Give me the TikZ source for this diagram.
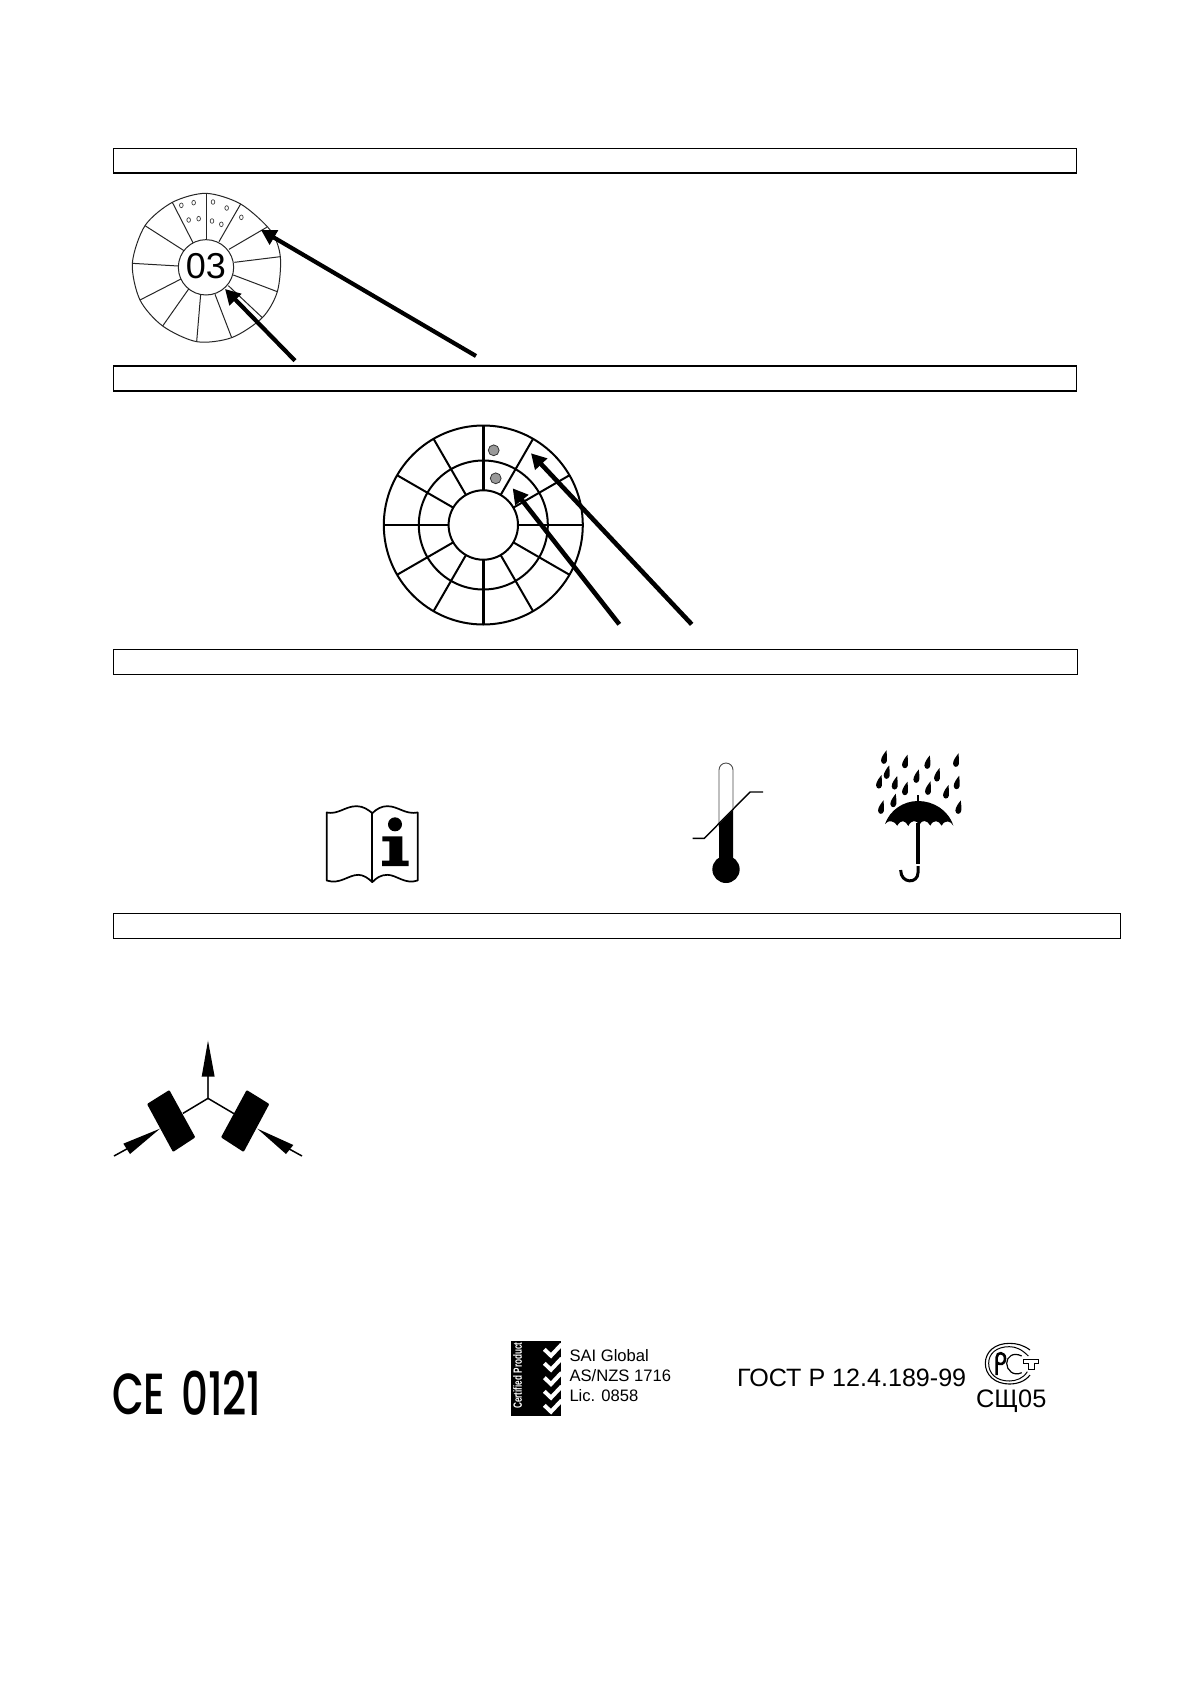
\documentclass[tikz,border=0pt]{standalone}
\usepackage{fontspec}
\setmainfont{Liberation Sans}
\newfontfamily\markfont{Poppins Medium}
\usetikzlibrary{arrows.meta}
\newcommand{\fsz}[1]{\fontsize{#1}{#1}\selectfont}
\tikzset{
  zm/.style 2 args={shift={(#1,#2)},x=0.33333pt,y=-0.33333pt},
  framebox/.style={draw=black,line width=1.1pt},
  bigarrow/.style={draw=black,line width=4.6pt,-{Triangle[length=15pt,width=16pt]}},
  sketch/.style={draw=black!85,line width=1pt},
  wheel/.style={draw=black,line width=2pt},
  wheelheavy/.style={draw=black,line width=3.2pt},
  labeltext/.style={inner sep=0pt,anchor=base west},
}
\begin{document}
\begin{tikzpicture}[x=1pt,y=-1pt]
\useasboundingbox (0,0) rectangle (1191,1684);
\fill[white] (0,0) rectangle (1191,1684);
% frames
\draw[framebox] (113.3,148.3) rectangle (1076.5,173);
\draw[framebox] (113.3,366) rectangle (1076.5,391);
\draw[framebox] (113.3,649.3) rectangle (1077.3,674.3);
\draw[framebox] (113.3,913.3) rectangle (1120.3,938.3);
% first wheel
\begin{scope}[zm={100}{140}]
  \draw[sketch] plot[smooth cycle,tension=.5] coordinates {(318,160) (217,187) (135,257) (97,370) (120,480) (188,558) (290,605) (395,593) (487,533) (532,455) (541,350) (512,272) (422,192)};
  \draw[sketch] (318,382) circle[radius=83];
  \foreach \xa/\ya/\xb/\yb in {318/300/318/160,279/308/217/187,252/332/135/257,235/378/97/370,243/417/120/480,266/447/188/558,302/463/290/605,345/463/395/593,385/437/487/533,400/405/532/455,403/367/541/350,387/328/500/262,357/305/422/192}
    \draw[sketch] (\xa,\ya) -- (\xb,\yb);
  \foreach \xa/\ya in {244/196,281/188,339/186,380/204,424/232,266/240,296/236,336/243,364/253}
    \draw[draw=black!75,line width=0.7pt] (\xa,\ya) circle[x radius=5.5,y radius=7];
  \node[inner sep=0pt,font=\fsz{36}] (wheelnum) at (318,377) {03};
  \coordinate (aas) at (585,662);
  \coordinate (aat) at (375,447);
  \coordinate (abs) at (1128,648);
  \coordinate (abt) at (483,270);
  \draw[bigarrow,line width=4.2pt] (aas) -- (aat);
  \draw[bigarrow,line width=4.2pt] (abs) -- (abt);
\end{scope}
% second wheel
\begin{scope}[shift={(483.3,525)}]
  \draw[wheel] (0,0) circle[radius=99.5];
  \draw[wheel] (0,0) circle[radius=64.5];
  \draw[wheel] (0,0) circle[radius=34.7];
  \foreach \a in {30,60,120,150,210,240,300,330}
    \draw[wheel] (\a:34.7) -- (\a:99.5);
  \draw[wheel] (0:34.7) -- (0:99.5);
  \draw[wheel] (180:34.7) -- (180:99.5);
  \draw[wheelheavy] (90:34.7) -- (90:99.5);
  \draw[wheelheavy] (270:34.7) -- (270:99.5);
\end{scope}
\filldraw[fill=black!40,draw=black!80,line width=0.8pt] (493.7,450.3) circle[radius=5.4];
\filldraw[fill=black!40,draw=black!80,line width=0.8pt] (495.7,478.3) circle[radius=5.4];
\coordinate (bas) at (619.3,624.3);
\coordinate (bat) at (512.7,488.3);
\coordinate (bbs) at (691.7,624.3);
\coordinate (bbt) at (531,453.3);
\draw[bigarrow] (bas) -- (bat);
\draw[bigarrow] (bbs) -- (bbt);
% book
\begin{scope}[zm={310}{730}]
  \begin{scope}[yshift=-1.5pt]
  \draw[black,line width=1.7pt,line join=round] (50,243) .. controls (85,250) and (105,224) .. (140,224) .. controls (160,224) and (175,235) .. (187,245) .. controls (200,232) and (215,224) .. (232,224) .. controls (265,224) and (285,250) .. (323,243) -- (323,447) .. controls (285,460) and (260,430) .. (232,430) .. controls (212,430) and (198,440) .. (187,452) .. controls (175,440) and (160,430) .. (145,430) .. controls (115,430) and (90,460) .. (50,447) -- cycle;
  \draw[black,line width=1.7pt] (187,245) -- (187,452);
  \end{scope}
  \fill[black] (255,283) circle[radius=21];
  \fill[black] (217,319) -- (277,319) -- (277,392) -- (296,392) -- (296,408) -- (216,408) -- (216,392) -- (238,392) -- (238,334) -- (217,334) -- cycle;
\end{scope}
% thermometer and umbrella
\begin{scope}[zm={670}{730}]
  \draw[draw=black!70,line width=0.9pt] (147,290) -- (147,120) arc[start angle=180,end angle=360,radius=21] -- (189,240);
  \fill[black] (147,283) -- (189,240) -- (189,400) -- (147,400) -- cycle;
  \fill[black] (168,418) circle[radius=41];
  \draw[black,line width=1.4pt] (68,325) -- (103,325) -- (240,186) -- (279,186);
  \foreach \x/\y in {643/82,706/95,773/97,859/91,651/127,740/139,802/135,628/156,675/159,706/176,775/175,829/186,861/158,671/212,634/232,866/232}
    \fill[black,shift={(\x,\y)},scale=1.1] (6,-19) .. controls (6,-8) and (9,0) .. (7,10) .. controls (5,20) and (-8,21) .. (-9,9) .. controls (-9,0) and (0,-12) .. (6,-19) -- cycle;
  \fill[black] (645,282) .. controls (660,240) and (700,213) .. (744,213) .. controls (790,213) and (835,240) .. (850,287)
    .. controls (842,272) and (825,268) .. (815,287)
    .. controls (806,270) and (790,268) .. (781,287)
    .. controls (772,270) and (756,268) .. (748,284)
    .. controls (740,270) and (724,268) .. (715,288)
    .. controls (706,270) and (692,268) .. (682,287)
    .. controls (672,272) and (656,268) .. (645,282) -- cycle;
  \draw[black,line width=1.8pt] (744,195) -- (744,215);
  \draw[black,line width=4.2pt] (744,278) -- (744,402);
  \draw[black,line width=3pt] (744,408) -- (744,428) .. controls (744,462) and (692,462) .. (692,420);
\end{scope}
% sensor symbol
\begin{scope}[zm={100}{1020}]
  \draw[black!80,line width=2.2pt] (324,235) -- (324,168);
  \fill[black] (324,62) -- (344,170) -- (305,170) -- cycle;
  \draw[black,line width=1.5pt] (324,235) -- (249,280);
  \draw[black,line width=1.5pt] (324,235) -- (402,281);
  \fill[black,rounded corners=1pt] (208,210) -- (141,252) -- (219,396) -- (286,352) -- cycle;
  \fill[black,rounded corners=1pt] (440,210) -- (508,252) -- (431,396) -- (363,352) -- cycle;
  \draw[black,line width=1.5pt] (42,408) -- (82,386);
  \fill[black] (180,326) -- (90,402) -- (70,371) -- cycle;
  \draw[black,line width=1.5pt] (606,408) -- (566,386);
  \fill[black] (472,326) -- (580,375) -- (558,402) -- cycle;
\end{scope}
% marks
\node[labeltext,font=\markfont\fsz{58},xscale=.71] (cemark) at (112,1414.5) {CE};
\node[labeltext,font=\markfont\fsz{60},xscale=.70] (cenum) at (181,1415) {0121};
% certified product
\begin{scope}[zm={505}{1335}]
  \fill[black] (18,18) rectangle (168,243);
  \foreach \dy in {0,42,85,126,168}
    \draw[white,line width=4pt,line cap=butt,line join=miter,shift={(0,\dy)}] (118,43) -- (138,62) -- (170,28);
\end{scope}
\node[inner sep=0pt,text=white,font=\bfseries\fsz{12},rotate=90,xscale=.68] (certtext) at (517.7,1375.5) {Certified Product};
\node[labeltext,font=\fsz{16.6}] (saia) at (569.3,1361.3) {SAI Global};
\node[labeltext,font=\fsz{16.6}] (saib) at (569.3,1381.3) {AS/NZS 1716};
\node[labeltext,font=\fsz{16.6}] (saic) at (569.3,1401) {Lic. 0858};
\node[labeltext,font=\fsz{25.1}] (gost) at (737,1386.7) {ГОСТ Р 12.4.189-99};
\node[labeltext,font=\fsz{25.3}] (gostb) at (976,1407.3) {СЩ05};
% PCT logo
\begin{scope}[zm={720}{1320}]
  \draw[black,line width=1.1pt] (930,90) .. controls (910,75) and (890,70) .. (868,70) .. controls (825,70) and (796,95) .. (796,130) .. controls (796,165) and (825,192) .. (868,192) .. controls (890,192) and (915,185) .. (930,165);
  \draw[black,line width=1pt] (925,108) .. controls (905,88) and (888,80) .. (868,80) .. controls (830,80) and (806,100) .. (806,130) .. controls (806,162) and (830,183) .. (868,183) .. controls (888,183) and (910,175) .. (922,155);
  \draw[black,line width=1.2pt] (905,108) .. controls (880,95) and (860,110) .. (860,130) .. controls (860,150) and (880,170) .. (905,158);
  \draw[black,line width=2.6pt] (830,165) -- (830,112) .. controls (830,95) and (855,95) .. (855,115) .. controls (855,135) and (838,135) .. (832,128);
  \draw[black,line width=.9pt,fill=white] (910,118) -- (955,118) -- (955,130) -- (942,130) -- (942,148) -- (925,148) -- (925,130) -- (910,130) -- cycle;
\end{scope}
\end{tikzpicture}
\end{document}
